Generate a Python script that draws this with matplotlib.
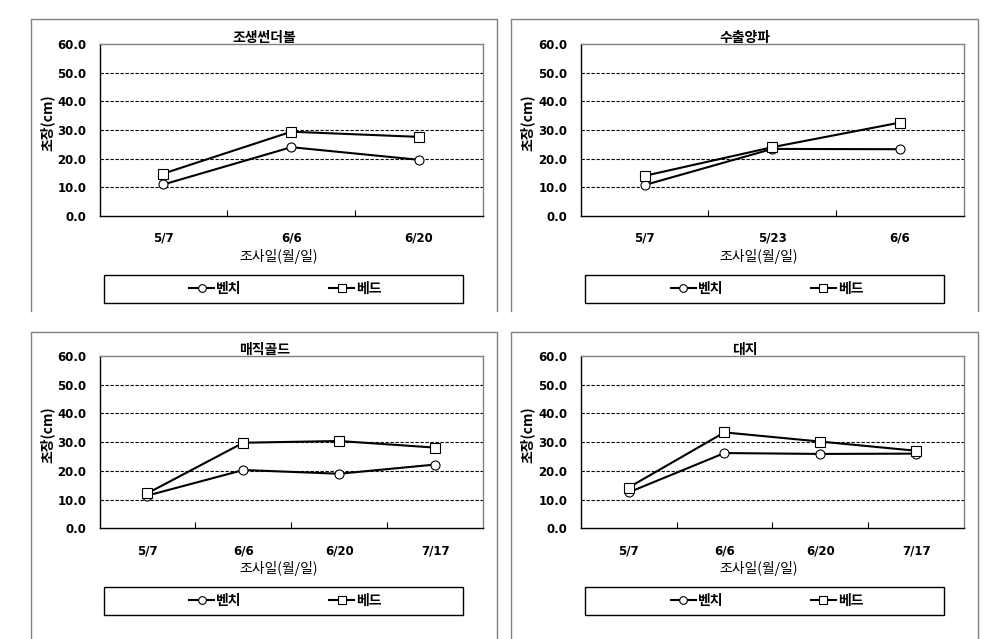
import matplotlib
matplotlib.use("Agg")
import matplotlib.pyplot as plt
from matplotlib.patches import Rectangle
from matplotlib.lines import Line2D

plt.rcParams['font.family'] = ['Noto Sans CJK KR', 'DejaVu Sans']

W = 992
H = 639

#
# data (초장, cm)
#
titles = ["조생썬더볼", "수출양파", "매직골드", "대지"]
series_names = ["벤치", "베드"]

dates_1 = ["5/7", "6/6", "6/20"]
bench_1 = [11.0, 24.0, 19.6]
bed_1 = [14.8, 29.4, 27.6]

dates_2 = ["5/7", "5/23", "6/6"]
bench_2 = [10.8, 23.4, 23.3]
bed_2 = [14.0, 24.0, 32.6]

dates_3 = ["5/7", "6/6", "6/20", "7/17"]
bench_3 = [11.4, 20.3, 19.0, 22.2]
bed_3 = [12.2, 29.8, 30.4, 28.1]

dates_4 = ["5/7", "6/6", "6/20", "7/17"]
bench_4 = [12.5, 26.2, 25.9, 26.0]
bed_4 = [14.2, 33.4, 30.2, 27.0]

y_ticks = [0, 10, 20, 30, 40, 50, 60]

panels = [
    (titles[0], dates_1, bench_1, bed_1),
    (titles[1], dates_2, bench_2, bed_2),
    (titles[2], dates_3, bench_3, bed_3),
    (titles[3], dates_4, bench_4, bed_4),
]

# layout in pixels: frame (l, t, r, b), plot area (l, t, r, b)
frames = [
    (31, 19, 497.5, 311),
    (511, 19, 978, 311),
    (31, 331.7, 497.5, 645),
    (511, 331.7, 978, 645),
]
plots = [
    (99.5, 44, 483, 216),
    (580.7, 44, 964, 216),
    (99.5, 356, 483, 528.3),
    (580.7, 356, 964, 528.3),
]


def fx(px):
    return px / W


def fy(py):
    return 1 - py / H


fig = plt.figure(figsize=(W / 100, H / 100), dpi=100)
fig.patch.set_facecolor("white")

for (title, dates, bench, bed), fr, pl in zip(panels, frames, plots):
    fl, ft, frr, fb = fr
    pl_l, pl_t, pl_r, pl_b = pl

    # chart area frame (open at the bottom)
    fig.add_artist(Line2D([fx(fl), fx(fl), fx(frr), fx(frr)],
                          [fy(fb), fy(ft), fy(ft), fy(fb)],
                          transform=fig.transFigure, color="#808080", lw=1.0))

    ax = fig.add_axes([fx(pl_l), fy(pl_b), fx(pl_r) - fx(pl_l), fy(pl_t) - fy(pl_b)])
    n = len(dates)
    x = [i + 0.5 for i in range(n)]

    for yv in y_ticks[1:-1]:
        ax.axhline(yv, color="black", lw=0.8, ls=(0, (3, 1.5)), zorder=1)

    ax.plot(x, bench, color="black", lw=1.5, marker="o", ms=6.5,
            mfc="white", mec="black", mew=0.8, label=series_names[0], zorder=3)
    ax.plot(x, bed, color="black", lw=1.5, marker="s", ms=7.0,
            mfc="white", mec="black", mew=0.8, label=series_names[1], zorder=4)

    ax.set_xlim(0, n)
    ax.set_ylim(0, 60)
    ax.set_yticks(y_ticks)
    ax.set_yticklabels([f"{v:.1f}" for v in y_ticks],
                       family="DejaVu Sans", weight="bold", fontsize=8.5)
    ax.set_xticks(x)
    ax.set_xticklabels(dates, family="DejaVu Sans", weight="bold", fontsize=8.5)
    ax.set_xticks(range(1, n), minor=True)
    ax.tick_params(axis="y", length=0, pad=9.5)
    ax.tick_params(axis="x", which="major", length=0, pad=11.5)
    ax.tick_params(axis="x", which="minor", direction="in", length=4, width=0.8)

    for side in ["left", "bottom"]:
        ax.spines[side].set_color("black")
        ax.spines[side].set_linewidth(1.0)
    for side in ["top", "right"]:
        ax.spines[side].set_color("#808080")
        ax.spines[side].set_linewidth(1.0)

    cx = (fl + frr) / 2
    fig.text(fx(cx), fy(ft + 18.7), title, ha="center", va="center",
             fontsize=10, weight="bold")
    fig.text(fx(cx + 14), fy(pl_b + 40), "조사일(월/일)", ha="center",
             va="center", fontsize=10)
    fig.text(fx(fl + 16), fy((pl_t + pl_b) / 2 - 7), "초장(cm)", ha="center",
             va="center", rotation=90, fontsize=10, weight="bold")

    # legend box
    lb_l = pl_l + 4.7
    lb_r = pl_r - 20.5
    lb_t = pl_b + 59
    lb_b = pl_b + 87
    fig.add_artist(Rectangle((fx(lb_l), fy(lb_b)), fx(lb_r) - fx(lb_l),
                             fy(lb_t) - fy(lb_b), transform=fig.transFigure,
                             fill=False, edgecolor="black", lw=1.0))
    handles, labels = ax.get_legend_handles_labels()
    ax.legend(handles, labels, loc="center", ncol=2, frameon=False,
              bbox_to_anchor=(fx(lb_l + 181.5), fy((lb_t + lb_b) / 2)),
              bbox_transform=fig.transFigure, handlelength=1.8,
              handletextpad=0.15, columnspacing=6.3, markerscale=0.85,
              prop={"size": 10, "weight": "bold"})

fig.savefig("out.png", dpi=100, facecolor="white")
